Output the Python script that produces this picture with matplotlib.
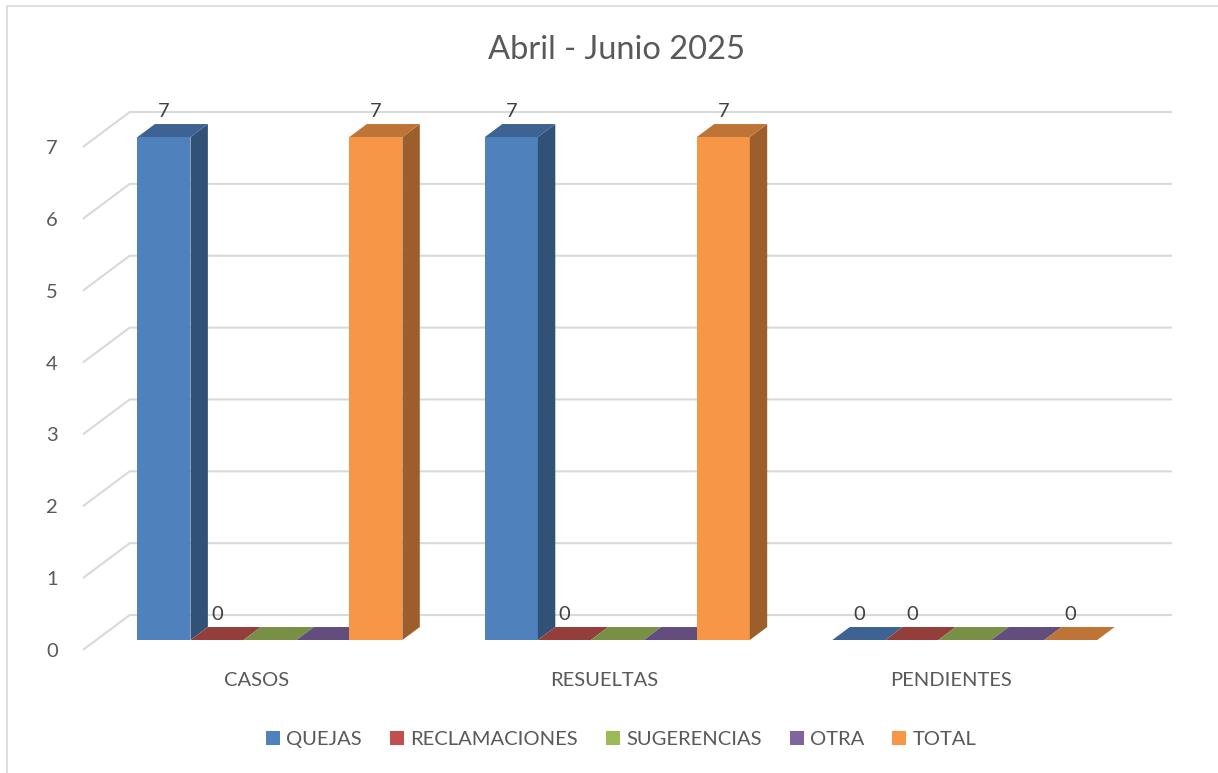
import matplotlib
matplotlib.use("Agg")
import matplotlib.pyplot as plt
from matplotlib.patches import Polygon, Rectangle, Patch
import matplotlib.colors as mcolors

# data
categories = ["CASOS", "RESUELTAS", "PENDIENTES"]
series_names = ["QUEJAS", "RECLAMACIONES", "SUGERENCIAS", "OTRA", "TOTAL"]
quejas = [7, 7, 0]
reclamaciones = [0, 0, 0]
sugerencias = [0, 0, 0]
otra = [0, 0, 0]
total = [7, 7, 0]
y_ticks = [0, 1, 2, 3, 4, 5, 6, 7]
title = "Abril - Junio 2025"

series_values = [quejas, reclamaciones, sugerencias, otra, total]
colors = ["#4F81BD", "#C0504D", "#9BBB59", "#8064A2", "#F79646"]
# excel hides the overlapping zero labels of these two series
show_label = [True, True, False, False, True]

plt.rcParams['font.family'] = ['Lato', 'DejaVu Sans']
txt = "#595959"

# fake 3d: depth vector of the floor, in data units
DX, DY = 0.135, 0.487
t0, t1 = 0.286, 0.657   # front / back of the bars along the depth
bw = 0.1525              # bar width


def shade(c, f):
    r, g, b = mcolors.to_rgb(c)
    return (r * f, g * f, b * f)


fig = plt.figure(figsize=(12.18, 7.73), dpi=100)
ax = fig.add_axes([0.068, 0.1591, 0.8557, 0.6507])
ax.set_xlim(-0.5, 2.5)
ax.set_ylim(0, 7)
for s in ax.spines.values():
    s.set_visible(False)

# walls: gridlines on the back wall + the left wall diagonals
for y in y_ticks:
    ax.plot([-0.5, -0.5 + DX, 2.5 + DX], [y, y + DY, y + DY],
            color="#D9D9D9", lw=1.5, zorder=0, clip_on=False,
            solid_capstyle="butt")

for i, cat in enumerate(categories):
    left = i - 2.5 * bw + t0 * DX
    for k, vals in enumerate(series_values):
        v = vals[i]
        c = colors[k]
        x0 = left + k * bw
        x1 = x0 + bw
        yb = t0 * DY
        yt = v + t0 * DY
        ddx = (t1 - t0) * DX
        ddy = (t1 - t0) * DY
        if v > 0:
            ax.add_patch(Rectangle((x0, yb), bw, v, facecolor=c, lw=0,
                                   zorder=2, clip_on=False))
            ax.add_patch(Polygon([(x1, yb), (x1 + ddx, yb + ddy),
                                  (x1 + ddx, yt + ddy), (x1, yt)],
                                 facecolor=shade(c, 0.63), lw=0, zorder=2,
                                 clip_on=False))
        ax.add_patch(Polygon([(x0, yt), (x1, yt), (x1 + ddx, yt + ddy),
                              (x0 + ddx, yt + ddy)],
                             facecolor=shade(c, 0.77), lw=0, zorder=2,
                             clip_on=False))
        if show_label[k]:
            ax.annotate(str(v), (x0 + bw / 2, yt + ddy), xytext=(0, 3),
                        textcoords="offset points", ha="center", va="bottom",
                        fontsize=14.5, color="#404040", zorder=3,
                        annotation_clip=False)

ax.set_yticks(y_ticks)
ax.set_xticks(range(len(categories)))
ax.set_xticklabels(categories)
ax.tick_params(axis="y", length=0, pad=18, labelsize=14.5, labelcolor=txt)
ax.tick_params(axis="x", length=0, pad=16, labelsize=14.5, labelcolor=txt)

fig.text(0.506, 0.935, title, ha="center", va="center", fontsize=23.5,
         color=txt)

handles = [Patch(facecolor=c, edgecolor="none") for c in colors]
fig.legend(handles, series_names, loc="center", bbox_to_anchor=(0.510, 0.043),
           ncol=5, frameon=False, fontsize=14.5, labelcolor=txt,
           handlelength=0.7, handleheight=0.7, handletextpad=0.3,
           columnspacing=1.4)

# chart area border (only top and left edge are inside the picture)
fig.patches.append(Rectangle((0.0058, -0.1), 1.2, 1.0922,
                             transform=fig.transFigure, fill=False,
                             edgecolor="#D9D9D9", lw=1.2))

fig.savefig("out.png", dpi=100)
